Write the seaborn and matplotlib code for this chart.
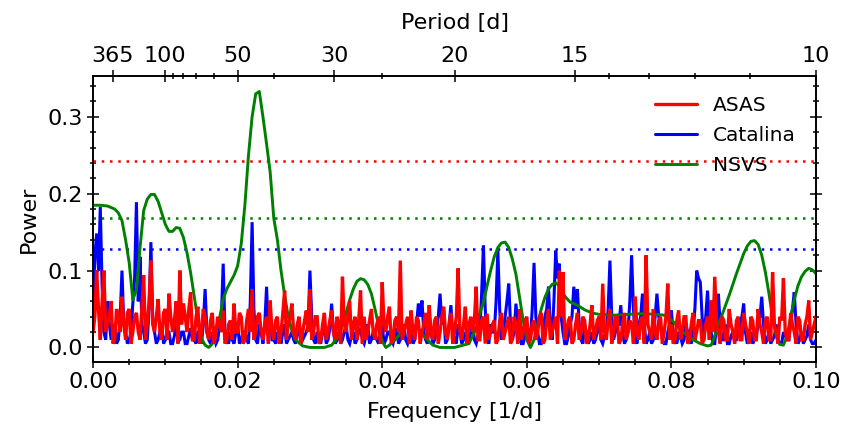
import numpy as np
import pandas as pd
import matplotlib
matplotlib.use("Agg")
import matplotlib.pyplot as plt
import seaborn as sns

# ---------------- data ----------------
# ASAS & Catalina are sampled on a 0.00025 1/d grid; values are given as the
# "on-grid" samples (every 0.0005) plus the samples half-way between them.
asas_power = [
    0.02, 0.10, 0.01, 0.10, 0.03, 0.06, 0.01, 0.04, 0.066, 0.01, 0.05, 0.02, 0.045, 0.01, 0.094, 0.03, 0.113, 0.02, 0.063, 0.01,
    0.05, 0.070, 0.02, 0.06, 0.100, 0.057, 0.02, 0.072, 0.01, 0.053, 0.02, 0.04, 0.01, 0.045, 0.02, 0.03, 0.048, 0.01, 0.035, 0.057,
    0.02, 0.04, 0.01, 0.05, 0.076, 0.02, 0.045, 0.01, 0.04, 0.061, 0.01, 0.04, 0.02, 0.074, 0.03, 0.057, 0.01, 0.04, 0.02, 0.048,
    0.076, 0.02, 0.04, 0.01, 0.045, 0.02, 0.048, 0.01, 0.03, 0.092, 0.02, 0.061, 0.03, 0.01, 0.074, 0.04, 0.02, 0.05, 0.01, 0.04,
    0.085, 0.02, 0.053, 0.01, 0.04, 0.113, 0.02, 0.04, 0.048, 0.01, 0.035, 0.02, 0.045, 0.055, 0.01, 0.04, 0.02, 0.053, 0.01, 0.045,
    0.02, 0.103, 0.01, 0.053, 0.03, 0.02, 0.079, 0.01, 0.04, 0.044, 0.02, 0.035, 0.01, 0.045, 0.02, 0.04, 0.01, 0.03, 0.05, 0.02,
    0.04, 0.01, 0.035, 0.02, 0.045, 0.01, 0.05, 0.02, 0.04, 0.10, 0.098, 0.02, 0.04, 0.01, 0.045, 0.02, 0.035, 0.01, 0.055, 0.02,
    0.04, 0.083, 0.01, 0.05, 0.02, 0.04, 0.01, 0.045, 0.02, 0.03, 0.066, 0.01, 0.04, 0.120, 0.02, 0.05, 0.01, 0.04, 0.02, 0.083,
    0.03, 0.01, 0.048, 0.02, 0.04, 0.01, 0.045, 0.02, 0.035, 0.01, 0.04, 0.061, 0.092, 0.02, 0.04, 0.01, 0.05, 0.02, 0.035, 0.01,
    0.045, 0.02, 0.04, 0.01, 0.05, 0.02, 0.035, 0.01, 0.098, 0.02, 0.04, 0.090, 0.01, 0.045, 0.02, 0.04, 0.01, 0.03, 0.061, 0.02, 0.04,
]
asas_power_mid = [
    0.04, 0.05, 0.06, 0.02, 0.04, 0.005, 0.05, 0.02, 0.03, 0.045, 0.005, 0.04, 0.02, 0.05, 0.01, 0.06, 0.03, 0.04, 0.02, 0.045,
    0.01, 0.04, 0.035, 0.005, 0.03, 0.04, 0.05, 0.01, 0.04, 0.005, 0.05, 0.02, 0.035, 0.005, 0.04, 0.02, 0.005, 0.03, 0.01, 0.02,
    0.045, 0.005, 0.035, 0.02, 0.01, 0.04, 0.02, 0.03, 0.005, 0.02, 0.035, 0.005, 0.045, 0.01, 0.04, 0.02, 0.03, 0.005, 0.035, 0.02,
    0.01, 0.04, 0.005, 0.03, 0.01, 0.035, 0.02, 0.04, 0.005, 0.03, 0.04, 0.01, 0.04, 0.035, 0.005, 0.01, 0.035, 0.02, 0.03, 0.005,
    0.03, 0.04, 0.005, 0.035, 0.02, 0.01, 0.03, 0.005, 0.02, 0.04, 0.005, 0.03, 0.01, 0.02, 0.035, 0.005, 0.04, 0.02, 0.03, 0.005,
    0.04, 0.02, 0.03, 0.005, 0.04, 0.035, 0.01, 0.035, 0.005, 0.01, 0.03, 0.005, 0.035, 0.01, 0.03, 0.005, 0.04, 0.005, 0.01, 0.035,
    0.005, 0.03, 0.01, 0.04, 0.005, 0.035, 0.01, 0.03, 0.005, 0.04, 0.01, 0.035, 0.005, 0.03, 0.01, 0.04, 0.005, 0.03, 0.01, 0.035,
    0.01, 0.02, 0.035, 0.005, 0.04, 0.005, 0.03, 0.01, 0.035, 0.005, 0.02, 0.035, 0.005, 0.03, 0.01, 0.02, 0.035, 0.005, 0.04, 0.01,
    0.005, 0.035, 0.01, 0.04, 0.005, 0.03, 0.01, 0.035, 0.005, 0.03, 0.01, 0.02, 0.03, 0.005, 0.035, 0.01, 0.03, 0.005, 0.04, 0.01,
    0.03, 0.005, 0.035, 0.01, 0.03, 0.005, 0.04, 0.01, 0.03, 0.005, 0.035, 0.02, 0.01, 0.03, 0.005, 0.035, 0.01, 0.04, 0.01, 0.03,
]

catalina_power = [
    0.05, 0.148, 0.183, 0.02, 0.06, 0.01, 0.03, 0.01, 0.10, 0.02, 0.01, 0.057, 0.189, 0.118, 0.02, 0.01, 0.137, 0.02, 0.01, 0.03,
    0.01, 0.02, 0.005, 0.03, 0.01, 0.02, 0.005, 0.025, 0.01, 0.02, 0.005, 0.076, 0.01, 0.02, 0.005, 0.03, 0.109, 0.01, 0.02, 0.005,
    0.03, 0.01, 0.02, 0.005, 0.163, 0.01, 0.03, 0.005, 0.079, 0.053, 0.01, 0.02, 0.005, 0.03, 0.01, 0.02, 0.005, 0.025, 0.01, 0.02,
    0.10, 0.01, 0.02, 0.005, 0.03, 0.01, 0.057, 0.005, 0.02, 0.01, 0.03, 0.005, 0.02, 0.01, 0.025, 0.005, 0.03, 0.01, 0.02, 0.005,
    0.03, 0.01, 0.02, 0.005, 0.025, 0.01, 0.03, 0.005, 0.02, 0.01, 0.057, 0.061, 0.01, 0.03, 0.005, 0.02, 0.070, 0.048, 0.01, 0.055,
    0.01, 0.03, 0.005, 0.02, 0.01, 0.035, 0.005, 0.02, 0.133, 0.01, 0.03, 0.02, 0.126, 0.01, 0.04, 0.083, 0.01, 0.057, 0.02, 0.005,
    0.03, 0.01, 0.110, 0.02, 0.005, 0.04, 0.079, 0.01, 0.126, 0.109, 0.02, 0.005, 0.03, 0.079, 0.076, 0.01, 0.03, 0.005, 0.02, 0.01,
    0.04, 0.005, 0.02, 0.113, 0.01, 0.03, 0.055, 0.005, 0.02, 0.120, 0.01, 0.03, 0.070, 0.005, 0.02, 0.01, 0.070, 0.03, 0.005, 0.02,
    0.048, 0.01, 0.02, 0.005, 0.03, 0.01, 0.02, 0.100, 0.085, 0.01, 0.074, 0.02, 0.005, 0.070, 0.01, 0.03, 0.005, 0.02, 0.01, 0.03,
    0.057, 0.005, 0.02, 0.01, 0.03, 0.066, 0.005, 0.02, 0.01, 0.03, 0.005, 0.02, 0.01, 0.03, 0.072, 0.005, 0.02, 0.01, 0.03, 0.005, 0.01,
]
catalina_power_mid = [
    0.12, 0.10, 0.08, 0.01, 0.03, 0.02, 0.005, 0.04, 0.03, 0.005, 0.02, 0.09, 0.06, 0.03, 0.005, 0.05, 0.04, 0.005, 0.02, 0.005,
    0.02, 0.005, 0.015, 0.01, 0.02, 0.005, 0.015, 0.01, 0.005, 0.02, 0.03, 0.02, 0.005, 0.015, 0.01, 0.04, 0.02, 0.005, 0.01, 0.02,
    0.005, 0.02, 0.01, 0.06, 0.05, 0.005, 0.02, 0.03, 0.02, 0.01, 0.005, 0.015, 0.02, 0.005, 0.015, 0.01, 0.02, 0.005, 0.015, 0.03,
    0.04, 0.005, 0.01, 0.02, 0.005, 0.025, 0.02, 0.01, 0.005, 0.02, 0.01, 0.015, 0.005, 0.02, 0.01, 0.015, 0.005, 0.02, 0.01, 0.02,
    0.005, 0.02, 0.01, 0.015, 0.005, 0.02, 0.01, 0.015, 0.005, 0.03, 0.04, 0.02, 0.005, 0.02, 0.01, 0.04, 0.03, 0.005, 0.03, 0.02,
    0.005, 0.02, 0.01, 0.005, 0.02, 0.01, 0.015, 0.07, 0.05, 0.005, 0.02, 0.06, 0.05, 0.02, 0.06, 0.03, 0.02, 0.03, 0.005, 0.015,
    0.02, 0.05, 0.04, 0.005, 0.02, 0.05, 0.03, 0.06, 0.09, 0.04, 0.005, 0.015, 0.04, 0.05, 0.03, 0.005, 0.02, 0.01, 0.005, 0.02,
    0.01, 0.015, 0.05, 0.04, 0.02, 0.03, 0.02, 0.01, 0.06, 0.05, 0.005, 0.04, 0.03, 0.01, 0.005, 0.04, 0.04, 0.01, 0.005, 0.03,
    0.02, 0.005, 0.015, 0.01, 0.02, 0.005, 0.05, 0.09, 0.04, 0.04, 0.03, 0.005, 0.03, 0.03, 0.01, 0.005, 0.015, 0.01, 0.02, 0.04,
    0.02, 0.01, 0.005, 0.015, 0.04, 0.03, 0.01, 0.005, 0.015, 0.01, 0.005, 0.015, 0.01, 0.05, 0.03, 0.01, 0.005, 0.015, 0.01, 0.005,
]

nsvs_freq = [
    0.0, 0.001, 0.002, 0.003, 0.0035, 0.004, 0.0045, 0.005, 0.0055, 0.006, 0.0065, 0.007, 0.0075, 0.008, 0.0085, 0.009, 0.0095,
    0.010, 0.0105, 0.011, 0.0115, 0.012, 0.0125, 0.013, 0.0135, 0.014, 0.0145, 0.015, 0.0155, 0.016, 0.0165, 0.017, 0.0175,
    0.018, 0.0185, 0.019, 0.0195, 0.020, 0.0205, 0.021, 0.0215, 0.022, 0.0225, 0.023, 0.0235, 0.024, 0.0245, 0.025, 0.0255,
    0.026, 0.0265, 0.027, 0.0275, 0.028, 0.029, 0.030, 0.032, 0.033, 0.034, 0.035, 0.0355, 0.036, 0.0365, 0.037, 0.0375,
    0.038, 0.0385, 0.039, 0.0395, 0.040, 0.0405, 0.041, 0.042, 0.043, 0.044, 0.045, 0.046, 0.047, 0.048, 0.050, 0.052,
    0.053, 0.0535, 0.054, 0.0545, 0.055, 0.0555, 0.056, 0.0565, 0.057, 0.0575, 0.058, 0.0585, 0.059, 0.0595, 0.060, 0.0605,
    0.061, 0.0615, 0.062, 0.0625, 0.063, 0.0635, 0.064, 0.0645, 0.065, 0.0655, 0.066, 0.067, 0.068, 0.069, 0.070, 0.072,
    0.074, 0.076, 0.078, 0.079, 0.080, 0.081, 0.082, 0.083, 0.084, 0.085, 0.0855, 0.086, 0.0865, 0.087, 0.0875, 0.088,
    0.0885, 0.089, 0.0895, 0.090, 0.0905, 0.091, 0.0915, 0.092, 0.0925, 0.093, 0.0935, 0.094, 0.0945, 0.095, 0.0955, 0.096,
    0.0965, 0.097, 0.0975, 0.098, 0.0985, 0.099, 0.0995, 0.100,
]
nsvs_power = [
    0.185, 0.185, 0.184, 0.180, 0.175, 0.165, 0.140, 0.110, 0.062, 0.075, 0.130, 0.178, 0.193, 0.199, 0.199, 0.190, 0.175,
    0.160, 0.151, 0.151, 0.156, 0.155, 0.143, 0.123, 0.097, 0.066, 0.035, 0.012, 0.003, 0.000, 0.005, 0.020, 0.038,
    0.063, 0.076, 0.085, 0.094, 0.106, 0.135, 0.185, 0.250, 0.300, 0.330, 0.333, 0.300, 0.265, 0.228, 0.168, 0.140,
    0.100, 0.068, 0.040, 0.022, 0.010, 0.002, 0.000, 0.000, 0.003, 0.015, 0.045, 0.062, 0.076, 0.086, 0.0895, 0.088,
    0.082, 0.070, 0.050, 0.028, 0.008, 0.000, 0.003, 0.012, 0.025, 0.030, 0.025, 0.012, 0.003, 0.000, 0.000, 0.005,
    0.025, 0.045, 0.058, 0.080, 0.100, 0.118, 0.130, 0.136, 0.137, 0.130, 0.115, 0.095, 0.065, 0.035, 0.010, 0.000,
    0.010, 0.030, 0.050, 0.065, 0.076, 0.082, 0.084, 0.080, 0.070, 0.064, 0.059, 0.055, 0.049, 0.045, 0.043, 0.042,
    0.043, 0.044, 0.043, 0.042, 0.036, 0.026, 0.017, 0.010, 0.005, 0.002, 0.003, 0.015, 0.030, 0.042, 0.055, 0.068,
    0.082, 0.096, 0.109, 0.122, 0.132, 0.138, 0.139, 0.134, 0.120, 0.098, 0.070, 0.038, 0.015, 0.004, 0.003, 0.015,
    0.040, 0.062, 0.080, 0.092, 0.099, 0.103, 0.101, 0.096,
]

# significance levels
sig_asas = 0.2425
sig_nsvs = 0.168
sig_catalina = 0.128

period_major = [365, 100, 50, 30, 20, 15, 10]
period_minor = [90, 80, 70, 60, 40, 25, 14, 13, 12, 11]


def interleave(on_grid, mid):
    out = np.empty(len(on_grid) + len(mid))
    out[0::2] = on_grid
    out[1::2] = mid
    return out


freq_grid = np.linspace(0.0, 0.1, len(asas_power) + len(asas_power_mid))

# ---------------- plot ----------------
sns.set_theme(style="ticks")
plt.rcParams["font.family"] = ["DejaVu Sans"]
plt.rcParams["axes.linewidth"] = 1.2
for key in ("text.color", "axes.labelcolor", "xtick.color", "ytick.color", "axes.edgecolor"):
    plt.rcParams[key] = "black"

fig = plt.figure(figsize=(8.46, 4.30), dpi=100)
ax = fig.add_axes([0.110, 0.158, 0.8545, 0.665])

df_asas = pd.DataFrame({"f": freq_grid, "p": interleave(asas_power, asas_power_mid)})
df_cat = pd.DataFrame({"f": freq_grid, "p": interleave(catalina_power, catalina_power_mid)})
df_nsvs = pd.DataFrame({"f": nsvs_freq, "p": nsvs_power})

sns.lineplot(data=df_cat, x="f", y="p", ax=ax, color="#0000ff", lw=2.2, estimator=None, sort=False,
             zorder=2, label="Catalina", solid_joinstyle="miter")
sns.lineplot(data=df_nsvs, x="f", y="p", ax=ax, color="#008000", lw=2.1, estimator=None, sort=False,
             zorder=3, label="NSVS")
sns.lineplot(data=df_asas, x="f", y="p", ax=ax, color="#ff0000", lw=2.4, estimator=None, sort=False,
             zorder=4, label="ASAS", solid_joinstyle="miter")

dots = (0, (1, 2.3))
ax.axhline(sig_asas, color="#ff0000", ls=dots, lw=1.8, zorder=1)
ax.axhline(sig_nsvs, color="#008000", ls=dots, lw=1.8, zorder=1)
ax.axhline(sig_catalina, color="#0000ff", ls=dots, lw=1.8, zorder=1)

ax.set_xlim(0.0, 0.1)
ax.set_ylim(-0.019, 0.353)
ax.set_xticks([0.0, 0.02, 0.04, 0.06, 0.08, 0.10])
ax.set_xticklabels(["0.00", "0.02", "0.04", "0.06", "0.08", "0.10"])
ax.set_xticks(np.arange(0.0, 0.1001, 0.005), minor=True)
ax.set_yticks([0.0, 0.1, 0.2, 0.3])
ax.set_yticklabels(["0.0", "0.1", "0.2", "0.3"])
ax.set_yticks(np.arange(0.0, 0.35, 0.02), minor=True)
ax.tick_params(which="both", direction="inout", right=True, colors="black", labelsize=16, width=1.1)
ax.tick_params(which="major", length=8)
ax.tick_params(which="minor", length=5)
ax.set_xlabel("Frequency [1/d]", fontsize=16, labelpad=7)
ax.set_ylabel("Power", fontsize=16, labelpad=6)

h, l = ax.get_legend_handles_labels()
order = [l.index("ASAS"), l.index("Catalina"), l.index("NSVS")]
ax.legend([h[i] for i in order], [l[i] for i in order], loc="upper right", frameon=False,
          fontsize=14.5, handlelength=2.1, borderaxespad=0.6, labelspacing=0.55)

ax2 = ax.twiny()
ax2.set_xlim(ax.get_xlim())
ax2.set_xticks([1.0 / p for p in period_major])
ax2.set_xticklabels([str(p) for p in period_major])
ax2.set_xticks([1.0 / p for p in period_minor], minor=True)
ax2.tick_params(which="both", direction="inout", labelsize=16, width=1.1, colors="black")
ax2.tick_params(which="major", length=8)
ax2.tick_params(which="minor", length=5)
ax2.set_xlabel("Period [d]", fontsize=16, labelpad=12)

fig.savefig("out.png", dpi=100)
